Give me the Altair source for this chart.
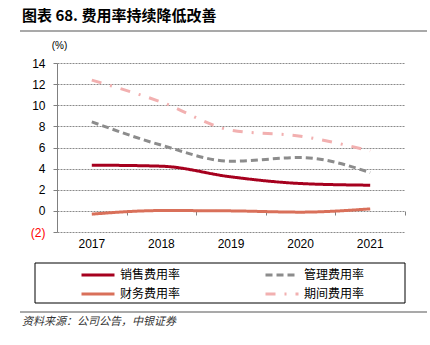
import altair as alt
import pandas as pd

years = ["2017", "2018", "2019", "2020", "2021"]
series_names = ["销售费用率", "管理费用率", "财务费用率", "期间费用率"]
sales = [4.33, 4.23, 3.22, 2.59, 2.43]
mgmt = [8.43, 6.22, 4.70, 5.05, 3.63]
finance = [-0.31, 0.03, 0.00, -0.12, 0.19]
period = [12.38, 10.30, 7.64, 7.07, 5.68]
colors = ["#A6001E", "#8C8C8C", "#D9705A", "#F2B0B0"]
dashes = [[1, 0], [7, 4], [1, 0], [10, 9, 2, 9]]
y_ticks = [-2, 0, 2, 4, 6, 8, 10, 12, 14]

title_text = "图表 68. 费用率持续降低改善"
source_text = "资料来源：公司公告，中银证券"

rows = []
for name, vals in zip(series_names, [sales, mgmt, finance, period]):
    for yr, v in zip(years, vals):
        rows.append({"year": yr, "series": name, "value": v})
df = pd.DataFrame(rows)

FONT = "Liberation Sans"
CJK = "Noto Sans CJK SC"

xscale = alt.Scale(type="band", paddingInner=0, paddingOuter=0, domain=years)

legend = alt.Legend(title=None, orient="none", legendX=23, legendY=206,
                    direction="horizontal",
                    columns=2, columnPadding=83, rowPadding=7, clipHeight=12,
                    symbolType="stroke", symbolSize=1089,
                    symbolStrokeWidth=3, labelFont=CJK, labelFontSize=12,
                    labelColor="#000", labelOffset=4, padding=0)

lines = alt.Chart(df).mark_line(interpolate="monotone", strokeWidth=3).encode(
    x=alt.X("year:N", scale=xscale,
            axis=alt.Axis(title=None, ticks=False, domain=False, labelAngle=0,
                          labelFont=FONT, labelFontSize=12, labelColor="#000",
                          labelPadding=6, grid=False)),
    y=alt.Y("value:Q", scale=alt.Scale(domain=[-2, 14], nice=False),
            axis=alt.Axis(values=y_ticks, title="(%)", titleAngle=0, titleX=2, titleY=-18,
                          titleAlign="center", titleBaseline="middle",
                          titleFont=FONT, titleFontSize=10, titleFontWeight="normal",
                          titleColor="#000",
                          labelExpr="datum.value < 0 ? '(' + abs(datum.value) + ')' : datum.label",
                          labelColor={"condition": {"test": "datum.value < 0", "value": "#FF0000"},
                                      "value": "#000000"},
                          labelFont=FONT, labelFontSize=12, labelPadding=8,
                          tickSize=4, tickColor="#808080", domainColor="#808080",
                          gridColor="#8a8a8a", gridDash=[2, 1], gridWidth=1)),
    color=alt.Color("series:N", scale=alt.Scale(domain=series_names, range=colors),
                    sort=series_names, legend=legend),
    strokeDash=alt.StrokeDash("series:N", scale=alt.Scale(domain=series_names, range=dashes),
                              sort=series_names, legend=legend),
)

xticks = alt.Chart(df).mark_point(opacity=0).encode(
    x=alt.X("year:N", scale=xscale,
            axis=alt.Axis(title=None, labels=False, ticks=True, tickBand="extent",
                          domain=False, offset=-21, tickSize=4, tickColor="#808080",
                          grid=False, orient="bottom")),
    y=alt.Y("value:Q", axis=None),
)

one = pd.DataFrame({"a": [0]})
box = alt.Chart(one).mark_rect(fill=None, stroke="#000", strokeWidth=1).encode(
    x=alt.value(-22), x2=alt.value(348), y=alt.value(200), y2=alt.value(240)
)
top_rule = alt.Chart(one).mark_rule(color="#8c8c8c", strokeWidth=1.5).encode(
    x=alt.value(-37), x2=alt.value(370), y=alt.value(-32)
)
bottom_rule = alt.Chart(one).mark_rule(color="#8c8c8c", strokeWidth=1.5).encode(
    x=alt.value(-37), x2=alt.value(370), y=alt.value(249)
)
title = alt.Chart(pd.DataFrame({"t": [title_text]})).mark_text(
    align="left", baseline="middle", font=CJK, fontSize=15, fontWeight="bold", color="#000"
).encode(text="t:N", x=alt.value(-35), y=alt.value(-47))
source = alt.Chart(pd.DataFrame({"t": [source_text]})).mark_text(
    align="left", baseline="middle", font=CJK, fontSize=11, fontStyle="italic", color="#333"
).encode(text="t:N", x=alt.value(-35), y=alt.value(259))

chart = alt.layer(lines, xticks, box, top_rule, bottom_rule, title, source).resolve_axis(
    x="independent", y="independent"
).properties(
    width=348, height=169,
    autosize=alt.AutoSizeParams(type="none"),
    padding={"left": 57, "top": 63, "right": 25, "bottom": 113},
    background="white",
).configure_view(stroke=None)

chart.save("out.html", embed_options={"renderer": "svg", "actions": False})
